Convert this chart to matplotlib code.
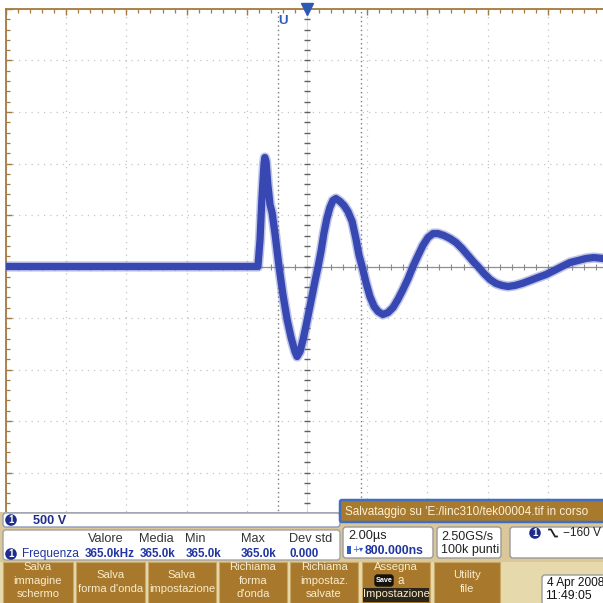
import matplotlib
matplotlib.use("Agg")
import matplotlib.pyplot as plt
import numpy as np
from matplotlib.patches import FancyBboxPatch, Rectangle, Circle
from matplotlib.lines import Line2D

# ---- channel 1 record: time (µs, relative to trigger position) and amplitude (V)
time_us = [-10.0, -1.63, -1.56, -1.50, -1.43, -1.40, -1.36, -1.30, -1.23, -1.16,
           -1.06, -0.93, -0.80, -0.66, -0.53, -0.40, -0.33, -0.23, -0.13, -0.03,
           0.07, 0.17, 0.27, 0.37, 0.47, 0.56, 0.66, 0.76, 0.86, 0.96,
           1.10, 1.23, 1.36, 1.50, 1.63, 1.73, 1.83, 1.96, 2.09, 2.23,
           2.36, 2.52, 2.69, 2.86, 3.02, 3.19, 3.36, 3.52, 3.69, 3.85,
           4.02, 4.19, 4.35, 4.55, 4.75, 4.95, 5.15, 5.35, 5.55, 5.68,
           5.88, 6.08, 6.28, 6.48, 6.68, 6.91, 7.14, 7.41, 7.67, 7.94,
           8.21, 8.47, 8.74, 9.00, 9.27, 9.53, 9.83, 10.0]
volts = [0, 0, 262, 650, 990, 1058, 1019, 796, 602, 524,
         311, 0, -272, -515, -689, -825, -874, -825, -709, -573,
         -427, -282, -136, 0, 155, 320, 466, 573, 641, 660,
         631, 592, 534, 437, 262, 107, 0, -155, -291, -388,
         -437, -466, -447, -398, -320, -223, -117, 0, 107, 204,
         282, 320, 320, 301, 272, 233, 175, 107, 39, 0,
         -68, -126, -165, -184, -194, -184, -165, -136, -107, -78,
         -39, 0, 39, 58, 78, 87, 78, 68]

# ---- acquisition settings shown in the readouts
volts_per_div = 500
time_per_div_us = 2.0
cursor_times_us = [-0.97, 1.80]
trigger_marker_us = -0.80

channel_scale = "500 V"
meas_headers = ["Valore", "Media", "Min", "Max", "Dev std"]
meas_name = "Frequenza"
meas_values = ["365.0kHz", "365.0k", "365.0k", "365.0k", "0.000"]
timebase = "2.00µs"
delay = "800.000ns"
sample_rate = "2.50GS/s"
record_len = "100k punti"
trigger_level = "\u2212160 V"
status_msg = "Salvataggio su 'E:/linc310/tek00004.tif in corso"
date_str = "4 Apr 2008"
time_str = "11:49:05"
menu_buttons = [["Salva", "immagine", "schermo"],
                ["Salva", "forma d'onda"],
                ["Salva", "impostazione"],
                ["Richiama", "forma", "d'onda"],
                ["Richiama", "impostaz.", "salvate"],
                ["Assegna", "a", "Impostazione"],
                ["Utility", "file"]]

FAM = ["Liberation Sans", "DejaVu Sans"]

W = H = 603
fig = plt.figure(figsize=(6.03, 6.03), dpi=100, facecolor="white")

# ---- graticule (10 x 10 divisions)
x0, x1, y0, y1 = 6, 608, 9, 524
ax = fig.add_axes([x0 / W, 1 - y1 / H, (x1 - x0) / W, (y1 - y0) / H])
ax.set_xlim(-5 * time_per_div_us, 5 * time_per_div_us)
ax.set_ylim(-5 * volts_per_div, 5 * volts_per_div)
ax.set_facecolor("white")

frame_col = "#a47a40"
for s in ("bottom", "right"):
    ax.spines[s].set_visible(False)
for s in ("top", "left"):
    ax.spines[s].set_color(frame_col)
    ax.spines[s].set_linewidth(1.3)
ax.set_xticks(np.arange(-10, 10.01, time_per_div_us))
ax.set_yticks(np.arange(-2500, 2501, volts_per_div))
ax.set_xticks(np.arange(-10, 10.01, time_per_div_us / 5), minor=True)
ax.set_yticks(np.arange(-2500, 2501, volts_per_div / 5), minor=True)
ax.tick_params(which="both", direction="in", top=True, bottom=False, left=True, right=False,
               labeltop=False, labelbottom=False, labelleft=False, color=frame_col)
ax.tick_params(which="major", length=4, width=1.0)
ax.tick_params(which="minor", length=3, width=0.9)
ax.grid(True, which="major", color="#c4c4c4", linestyle=(0, (1, 4)), linewidth=0.9)

# centre axes with fine ticks
minor_t = np.arange(-10, 10.01, time_per_div_us / 5)
minor_v = np.arange(-2500, 2501, volts_per_div / 5)
ax.axhline(0, color="#909090", lw=0.9, zorder=2)
ax.plot(minor_t, np.zeros_like(minor_t), ls="none", marker="|", ms=5, mew=0.8,
        color="#8a8a8a", zorder=2)
ax.axvline(0, color="#d8d8d8", lw=0.6, zorder=2)
ax.plot(np.zeros_like(minor_v), minor_v, ls="none", marker="_", ms=5, mew=1.0,
        color="#606060", zorder=2)

# cursors
for ct in cursor_times_us:
    ax.axvline(ct, color="#7a7a7a", lw=1.0, linestyle=(0, (1, 2.2)), zorder=2)

# waveform (noise band rendered as a wide translucent stroke)
wave_col = "#3848b2"
ax.plot(time_us, volts, color="#6270c6", lw=7.4, alpha=0.4, solid_joinstyle="round",
        solid_capstyle="butt", zorder=4)
ax.plot(time_us, volts, color=wave_col, lw=5.2, solid_joinstyle="round",
        solid_capstyle="butt", zorder=5)

# position / trigger markers on the top edge
ax.plot([0], [2500], marker="v", ms=8, color="#2c58b8", clip_on=False, zorder=6)
ax.text(trigger_marker_us, 2380, "U", color="#2a5cc0", fontsize=9.5, fontweight="bold",
        ha="center", va="center", family=FAM, zorder=6)

# ---- readout / menu overlay in pixel coordinates
ui = fig.add_axes([0, 0, 1, 1], facecolor="none")
ui.set_xlim(0, W)
ui.set_ylim(H, 0)
ui.axis("off")

tan = "#dac79a"
btn_col = "#a8792c"
btn_txt = "#f8eccc"
navy = "#1e2d8c"
blue_txt = "#2035a0"

ui.add_patch(Rectangle((0, 512), W, H - 512, facecolor=tan, edgecolor="none", zorder=1))
ui.add_patch(Rectangle((0, 562), W, H - 562, facecolor="#e6d9ac", edgecolor="none", zorder=1))


def box(x, y, w, h, fc="white", ec="#9aa3bd", lw=1.0, r=3, z=2):
    ui.add_patch(FancyBboxPatch((x, y), w, h, boxstyle=f"round,pad=0,rounding_size={r}",
                                facecolor=fc, edgecolor=ec, linewidth=lw, zorder=z))


def label(x, y, s, color="#222222", size=8.0, weight="normal", ha="left"):
    ui.text(x, y, s, color=color, fontsize=size, fontweight=weight, ha=ha, va="center",
            family=FAM, zorder=5)


def chan_badge(x, y):
    ui.add_patch(Circle((x, y), 5.8, facecolor=navy, edgecolor="none", zorder=4))
    ui.text(x, y + 0.3, "1", color="white", fontsize=7, fontweight="bold",
            ha="center", va="center", family=FAM, zorder=5)


# channel scale
box(3, 513, 337, 14, ec="#8f9bbd")
chan_badge(11, 520)
label(33, 520.5, channel_scale, color=navy, size=9.2, weight="bold")

# measurements
box(3, 530, 337, 30, ec="#a3a3a3")
head_x = [88, 139, 185, 241, 289]
val_x = [85, 140, 186, 241, 289]
for hx, h in zip(head_x, meas_headers):
    label(hx, 538.5, h, color="#333333", size=9.2)
chan_badge(11, 554)
label(22, 554, meas_name, color=blue_txt, size=8.6)
for vx, v in zip(val_x, meas_values):
    label(vx, 554, v, color=blue_txt, size=8.4, weight="bold")

# status message
box(340, 500, 280, 22, fc="#a77a2e", ec="#3f6fc4", lw=1.8, r=2, z=3)
label(345, 511.5, status_msg, color="#fbf1d6", size=8.5)

# timebase
box(343, 527, 90, 31, ec="#9a9a9a")
label(348, 536.5, timebase, size=9.2)
ui.add_patch(Rectangle((346.5, 546), 4, 8, facecolor="#2e5cc0", edgecolor="none", zorder=5))
ui.text(352, 550, "+\u25be", color="#2e5cc0", fontsize=6, ha="left", va="center",
        family=["DejaVu Sans"], zorder=5)
label(365, 550.5, delay, color=blue_txt, size=8.8, weight="bold")

# sampling
box(437, 527, 64, 31, ec="#9a9a9a")
label(441, 536.5, sample_rate, size=9.0)
label(441, 550.5, record_len, size=9.0)

# trigger
box(510, 527, 110, 31, ec="#9a9a9a")
chan_badge(535, 533)
ui.add_line(Line2D([549, 551, 555, 557], [529.5, 529.5, 536.5, 536.5], color="#222222",
                   lw=1.3, zorder=5))
label(563, 533.5, trigger_level, size=8.6)

# soft-key menu
btn_x = [3, 76, 148, 219, 290, 362, 434]
btn_w = [70, 69, 68, 68, 68, 68, 66]
for bx, bw, lines in zip(btn_x, btn_w, menu_buttons):
    ui.add_patch(Rectangle((bx, 562), bw, 41, facecolor=btn_col, edgecolor="#c9a866",
                           linewidth=0.8, zorder=2))
    cx = bx + bw / 2
    ys = [567.5, 580.5, 594] if len(lines) == 3 else [575, 589]
    for ty, t in zip(ys, lines):
        if t == "Impostazione":
            ui.add_patch(Rectangle((bx + 1, 588), bw - 2, 14, facecolor="#2b2418",
                                   edgecolor="none", zorder=3))
        if t == "a":
            box(cx - 21, 575, 18, 11, fc="#15120d", ec="#15120d", r=2.5, z=3)
            ui.text(cx - 12, 580.5, "Save", color="white", fontsize=5.2, fontweight="bold",
                    ha="center", va="center", family=FAM, zorder=5)
            label(cx + 1, ty, t, color=btn_txt, size=8.4)
            continue
        label(cx, ty, t, color=btn_txt, size=8.1, ha="center")

# date / time
box(542, 575, 80, 30, ec="#9a9a9a")
label(547, 583, date_str, color="#111111", size=8.6)
label(545, 596, time_str, color="#111111", size=8.8)

fig.savefig("out.png", dpi=100, facecolor="white")
